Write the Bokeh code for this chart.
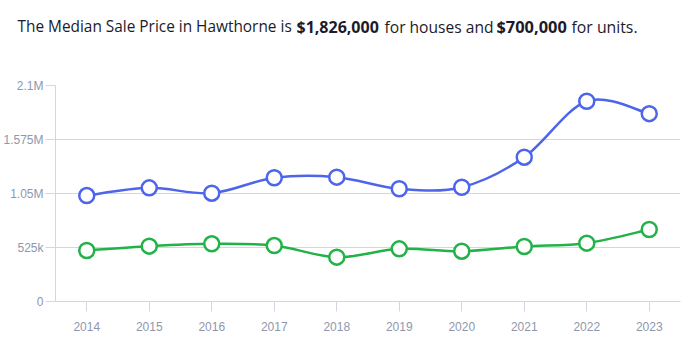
from bokeh.plotting import figure
from bokeh.layouts import column
from bokeh.models import Range1d, FixedTicker, Label, ColumnDataSource
from bokeh.embed import file_html
from bokeh.resources import INLINE

years = [2014, 2015, 2016, 2017, 2018, 2019, 2020, 2021, 2022, 2023]
house_prices = [1030000, 1105000, 1053000, 1203000, 1209000, 1096000, 1111000, 1403000, 1947000, 1826000]
unit_prices = [496000, 538000, 561000, 544000, 431000, 512000, 489000, 535000, 567000, 700000]
y_ticks = [0, 525000, 1050000, 1575000, 2100000]
y_tick_labels = ["0", "525k", "1.05M", "1.575M", "2.1M"]

BLUE = "#4d65ea"
GREEN = "#22b247"
GRID = "#cfd7e3"
LABEL = "#8f97ad"

LEFT, RIGHT = 54, 13

# title strip: frame covers the whole strip, x range in pixels from page left
t = figure(width=693, height=45, output_backend="svg", toolbar_location=None,
           x_range=Range1d(0, 693), y_range=Range1d(0, 45), min_border=0,
           x_axis_type=None, y_axis_type=None)
if hasattr(t, "frame_align"):
    t.frame_align = False
t.outline_line_color = None
t.xgrid.grid_line_color = None
t.ygrid.grid_line_color = None
parts = [
    ("The Median Sale Price in Hawthorne is", "normal", "15.4px", 17),
    ("$1,826,000", "bold", "16px", 296),
    ("for houses and", "normal", "15.6px", 384),
    ("$700,000", "bold", "16.4px", 496),
    ("for units.", "normal", "15.8px", 571),
]
for txt, style, size, x in parts:
    t.add_layout(Label(x=x, y=19, text=txt,
                       text_font="Open Sans", text_font_size=size, text_font_style=style,
                       text_color="#1b1b2b", text_baseline="alphabetic", text_align="left"))

p = figure(width=693, height=312, output_backend="svg", toolbar_location=None,
           x_range=Range1d(2013.5, 2023.5), y_range=Range1d(0, 2100000),
           min_border_left=LEFT, min_border_right=RIGHT, min_border_top=40, min_border_bottom=56)
if hasattr(p, "frame_align"):
    p.frame_align = False
p.outline_line_color = None


def bezier_source(xs, ys, k=1.0 / 6.0):
    n = len(xs)
    d = dict(x0=[], y0=[], x1=[], y1=[], cx0=[], cy0=[], cx1=[], cy1=[])
    for i in range(n - 1):
        xm, ym = (xs[i - 1], ys[i - 1]) if i > 0 else (xs[i], ys[i])
        xp, yp = (xs[i + 2], ys[i + 2]) if i + 2 < n else (xs[i + 1], ys[i + 1])
        d["x0"].append(xs[i]); d["y0"].append(ys[i])
        d["x1"].append(xs[i + 1]); d["y1"].append(ys[i + 1])
        d["cx0"].append(xs[i] + (xs[i + 1] - xm) * k)
        d["cy0"].append(ys[i] + (ys[i + 1] - ym) * k)
        d["cx1"].append(xs[i + 1] - (xp - xs[i]) * k)
        d["cy1"].append(ys[i + 1] - (yp - ys[i]) * k)
    return ColumnDataSource(d)


for vals, col in [(house_prices, BLUE), (unit_prices, GREEN)]:
    p.bezier(x0="x0", y0="y0", x1="x1", y1="y1", cx0="cx0", cy0="cy0", cx1="cx1", cy1="cy1",
             source=bezier_source(years, vals), line_color=col, line_width=2.5)
    p.scatter(years, vals, size=15, fill_color="white", line_color=col, line_width=2.5)

p.xaxis.ticker = FixedTicker(ticks=years)
p.xaxis.major_label_overrides = {y: str(y) for y in years}
p.yaxis.ticker = FixedTicker(ticks=y_ticks)
p.yaxis.major_label_overrides = dict(zip(y_ticks, y_tick_labels))
for ax in (p.xaxis, p.yaxis):
    ax.axis_line_color = GRID
    ax.major_tick_line_color = GRID
    ax.major_tick_out = 10
    ax.major_tick_in = 0
    ax.minor_tick_line_color = None
    ax.major_label_text_color = LABEL
    ax.major_label_text_font = "Liberation Sans"
    ax.major_label_text_font_size = "12px"
p.xaxis.major_label_standoff = 10
p.yaxis.major_label_standoff = 2
p.xgrid.grid_line_color = None
p.ygrid.grid_line_color = GRID

layout = column(t, p, spacing=0)
open("out.html", "w").write(file_html(layout, INLINE))
